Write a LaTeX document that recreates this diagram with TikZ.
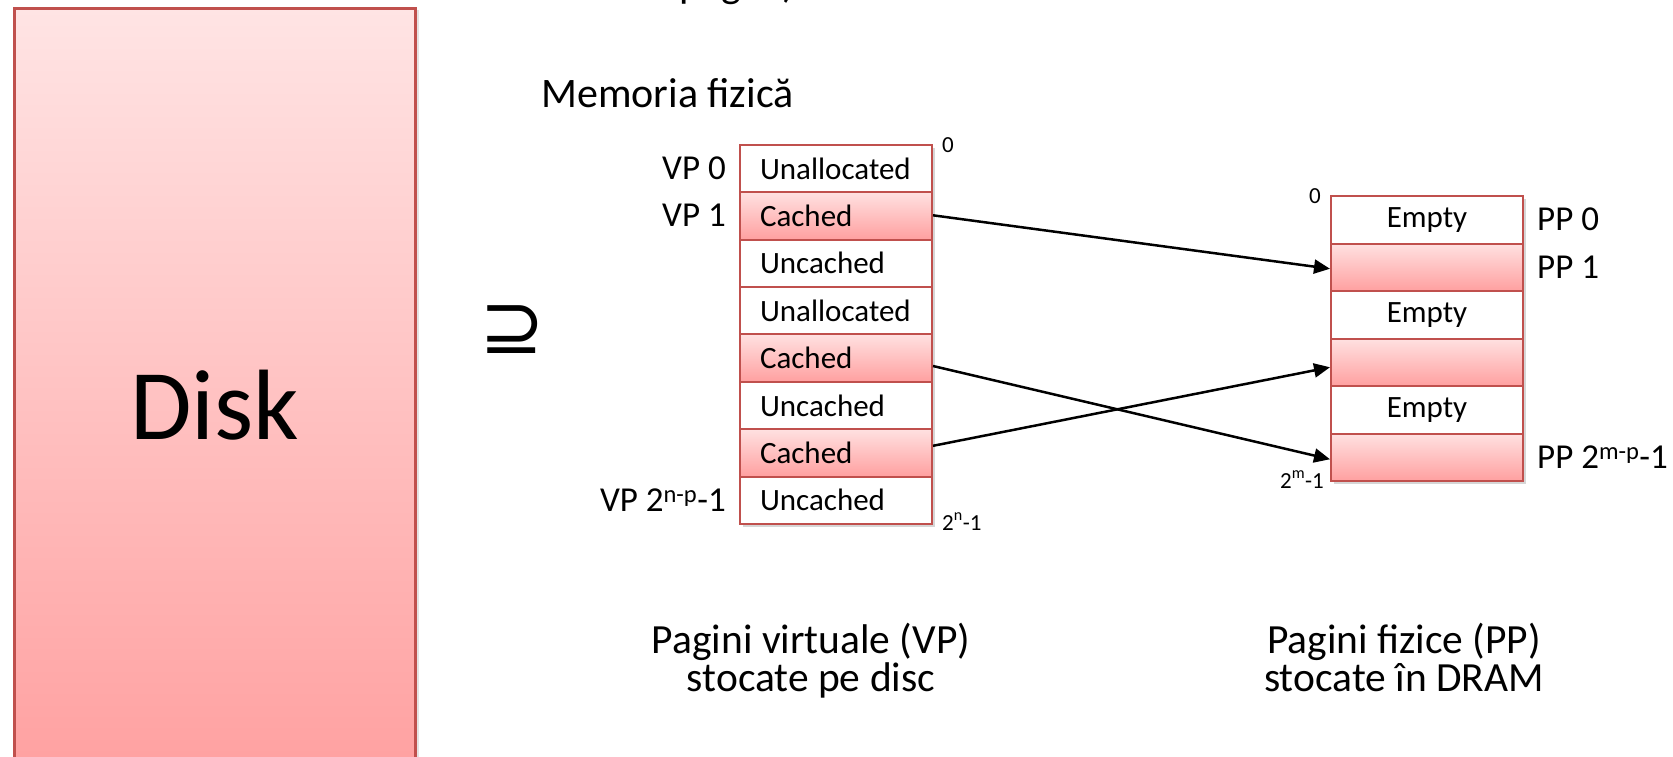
\documentclass[tikz,border=0pt]{standalone}
\usepackage{fontspec}
\setmainfont{Carlito}
\newfontfamily\symfont{DejaVu Sans}
\usetikzlibrary{arrows.meta,calc,shadows}

\definecolor{edgered}{RGB}{192,80,77}
\definecolor{pinktop}{RGB}{255,225,225}
\definecolor{pinkbot}{RGB}{255,160,160}
\definecolor{disktop}{RGB}{255,228,228}
\definecolor{diskbot}{RGB}{255,158,158}

\begin{document}
\begin{tikzpicture}[x=1pt,y=-1pt,
  cell/.style={draw=edgered, line width=2pt, fill=white, inner sep=0pt,
    minimum width=192pt, minimum height=47.4pt,
    font=\fontsize{31}{36}\selectfont},
  vcell/.style={cell, text width=152pt, align=left},
  pcell/.style={cell, minimum height=47.5pt},
  cached/.style={top color=pinktop, bottom color=pinkbot},
  lbl/.style={inner sep=0pt, font=\fontsize{35}{40}\selectfont},
  addr/.style={inner sep=0pt, font=\fontsize{23}{26}\selectfont},
  caption/.style={inner sep=0pt, font=\fontsize{41.5}{46}\selectfont},
  conn/.style={line width=2.5pt, -{Triangle[length=16pt,width=14pt]}},
  diskbox/.style={draw=edgered, line width=3pt, top color=disktop, bottom color=diskbot,
    drop shadow={opacity=0.22, shadow xshift=3pt, shadow yshift=-1pt},
    inner sep=0pt, font=\fontsize{100}{110}\selectfont}
]
\path[use as bounding box, clip] (0,0) rectangle (1673,756);
\fill[white] (0,0) rectangle (1673,756);

% disk
\node[diskbox, anchor=north west, minimum width=401pt, minimum height=793pt] (disk) at (13,7) {Disk};

% superset sign
\node[inner sep=0pt, font=\symfont\fontsize{78}{80}\selectfont] (sup) at (512,330) {⊇};

% headings
\node[caption, anchor=base west, font=\fontsize{42}{46}\selectfont] (topline) at (679,-3) {pagini)};
\node[caption, anchor=base west, font=\fontsize{42}{46}\selectfont] (phys) at (541,107) {Memoria fizică};

% virtual pages: shadow, then rows
\fill[black, opacity=0.16] (743,148) rectangle (935,527);
\node[vcell]        (v0) at (836,168.4) {Unallocated};
\node[vcell,cached] (v1) at (836,215.8) {Cached};
\node[vcell]        (v2) at (836,263.2) {Uncached};
\node[vcell]        (v3) at (836,310.6) {Unallocated};
\node[vcell,cached] (v4) at (836,358.0) {Cached};
\node[vcell]        (v5) at (836,405.4) {Uncached};
\node[vcell,cached] (v6) at (836,452.8) {Cached};
\node[vcell]        (v7) at (836,500.2) {Uncached};

\node[lbl, anchor=base east] (vl0) at (726,179.4) {VP 0};
\node[lbl, anchor=base east] (vl1) at (726,226.8) {VP 1};
\node[lbl, anchor=base east] (vl7) at (726,511.2) {VP 2\textsuperscript{n-p}-1};
\node[addr, anchor=base west] (va0) at (942,152) {0};
\node[addr, anchor=base west] (van) at (942,530) {2\textsuperscript{n}-1};

% physical pages: shadow, then rows
\fill[black, opacity=0.16] (1334,199) rectangle (1526,484);
\node[pcell]        (p0) at (1427,219.75) {Empty};
\node[pcell,cached] (p1) at (1427,267.25) {};
\node[pcell]        (p2) at (1427,314.75) {Empty};
\node[pcell,cached] (p3) at (1427,362.25) {};
\node[pcell]        (p4) at (1427,409.75) {Empty};
\node[pcell,cached] (p5) at (1427,457.25) {};

\node[lbl, anchor=base west] (pl0) at (1537,230.75) {PP 0};
\node[lbl, anchor=base west] (pl1) at (1537,278.25) {PP 1};
\node[lbl, anchor=base west] (pl5) at (1537,468.25) {PP 2\textsuperscript{m-p}-1};
\node[addr, anchor=base west] (pa0) at (1309,203) {0};
\node[addr, anchor=base east] (pam) at (1324,488) {2\textsuperscript{m}-1};

% mappings
\draw[conn] ($(v1.east)+(0,-0.5)$) -- ($(p1.west)+(0,1.5)$);
\draw[conn] ($(v4.east)+(0,8)$) -- ($(p5.west)+(0,2)$);
\draw[conn] ($(v6.east)+(0,-7)$) -- ($(p3.west)+(0,5)$);

% captions
\node[caption, anchor=base] (vcap1) at (811,653) {Pagini virtuale (VP)};
\node[caption, anchor=base] (vcap2) at (811,691) {stocate pe disc};
\node[caption, anchor=base] (pcap1) at (1404,653) {Pagini fizice (PP)};
\node[caption, anchor=base] (pcap2) at (1404,691) {stocate în DRAM};
\end{tikzpicture}
\end{document}
